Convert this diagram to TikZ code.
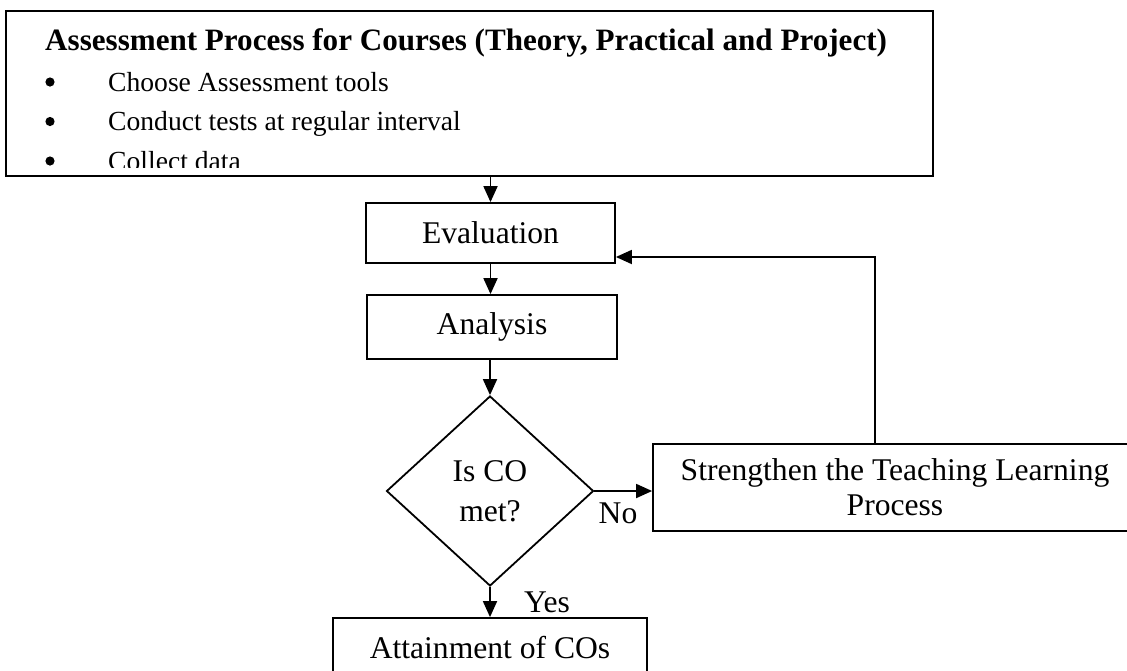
\documentclass[tikz,border=0pt]{standalone}
\usepackage{fontspec}
\setmainfont{Liberation Serif}
\usetikzlibrary{shapes.geometric,arrows.meta}

\tikzset{
  box/.style={draw, line width=1.8pt, rectangle, inner sep=0pt, align=center,
              font=\fontsize{31.6}{35}\selectfont},
  decision/.style={draw, line width=1.8pt, diamond, inner sep=0pt, align=center,
              font=\fontsize{31.6}{40}\selectfont},
  arr/.style={line width=1.8pt, -{Triangle[length=16pt,width=14pt]}},
  flowlabel/.style={inner sep=0pt, font=\fontsize{31.6}{35}\selectfont},
  listtext/.style={inner sep=0pt, anchor=base west, font=\fontsize{27.6}{30}\selectfont},
  dot/.style={fill=black, draw=none}
}

\begin{document}
\begin{tikzpicture}[x=1pt,y=-1pt]
  \clip (0,0) rectangle (1127,670);
  \fill[white] (0,0) rectangle (1127,670);

  % assessment box with its list, cut off by the box margin
  \node[draw, line width=1.8pt, minimum width=927pt, minimum height=165pt, inner sep=0pt]
    (top) at (469.5,93.5) {};
  \begin{scope}
    \clip (8,13) rectangle (931,167.5);
    \node[listtext, font=\fontsize{31.1}{34}\selectfont\bfseries] (title) at (45,50)
      {Assessment Process for Courses (Theory, Practical and Project)};
    \node[listtext] (l1) at (108,91) {Choose Assessment tools};
    \node[listtext] (l2) at (108,130.5) {Conduct tests at regular interval};
    \node[listtext] (l3) at (108,170) {Collect data};
    \fill[dot] (50,82) circle (4.6);
    \fill[dot] (50,121.5) circle (4.6);
    \fill[dot] (50,161) circle (4.6);
  \end{scope}

  % flow chart
  \node[box, minimum width=249pt, minimum height=60pt] (eval) at (490.5,233) {Evaluation};
  \node[box, minimum width=250pt, minimum height=64pt] (ana) at (492,327) {Analysis};
  \node[decision, minimum width=207pt, minimum height=190pt] (dec) at (490,491) {Is CO\\met?};
  \node[box, minimum width=484pt, minimum height=87pt] (str) at (895,487.5)
    {Strengthen the Teaching Learning\\Process};
  \node[box, minimum width=314pt, minimum height=60pt] (att) at (490,648) {Attainment of COs};

  \coordinate (fb) at (875,257);

  \draw[arr] (eval.north |- top.south) -- (eval.north);
  \draw[arr] (eval.south) -- (eval.south |- ana.north);
  \draw[arr] (ana.south -| dec.north) -- (dec.north);
  \draw[arr] (dec.east) -- (str.west |- dec.east);
  \draw[arr] (str.north -| fb) -- (fb) -- (eval.east |- fb);
  \draw[arr] (dec.south) -- (att.north -| dec.south);

  \node[flowlabel] (no) at (618,513) {No};
  \node[flowlabel] (yes) at (547,602) {Yes};
\end{tikzpicture}
\end{document}
